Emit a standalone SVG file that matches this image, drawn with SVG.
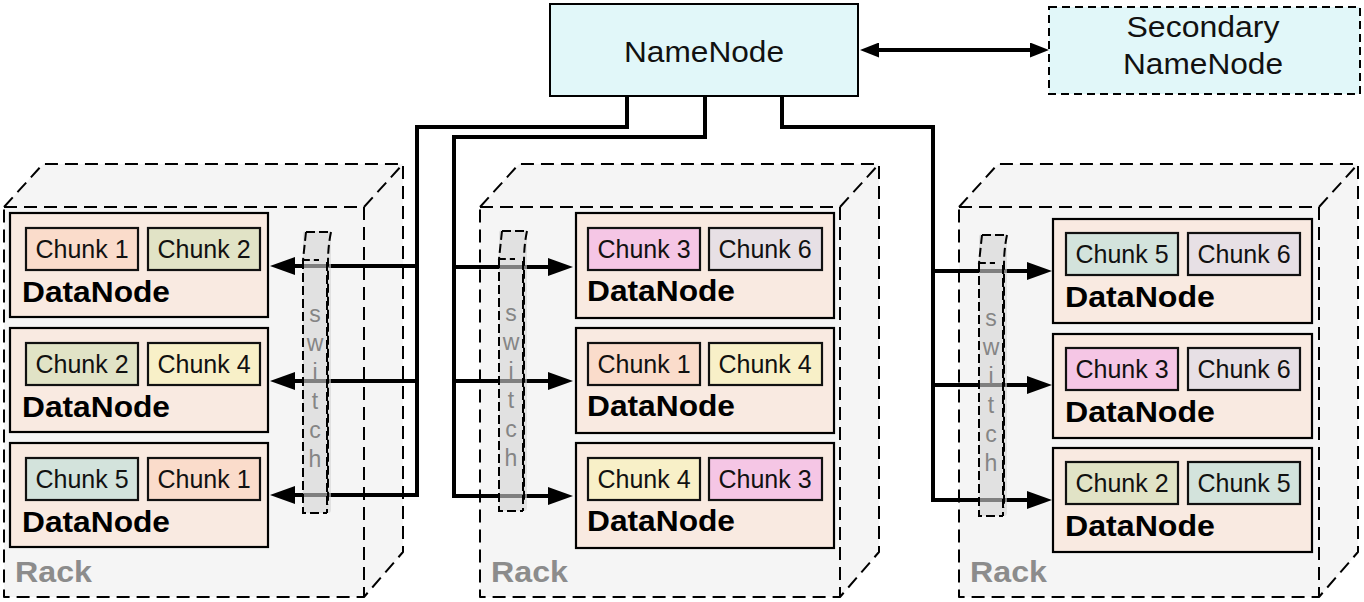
<svg xmlns="http://www.w3.org/2000/svg" width="1364" height="602" viewBox="0 0 1364 602">
<style>
.rack{fill:#f5f5f5;stroke:#000;stroke-width:2;stroke-dasharray:13 7;stroke-linejoin:round}
.rackin{fill:none;stroke:#000;stroke-width:2;stroke-dasharray:13 7}
.dn{fill:#f9eae1;stroke:#000;stroke-width:2.2}
.ck{stroke:#111;stroke-width:2.2}
.c1{fill:#fadccb}.c2{fill:#e1e3c6}.c3{fill:#f5c6e5}.c4{fill:#f8f0c8}.c5{fill:#d3e3dc}.c6{fill:#e7e0e5}
.ckt{font-family:"Liberation Sans",Arial,sans-serif;font-size:25px;fill:#111;text-anchor:middle}
.dnt{font-family:"Liberation Sans",Arial,sans-serif;font-size:29px;font-weight:bold;fill:#000}
.rkt{font-family:"Liberation Sans",Arial,sans-serif;font-size:29px;font-weight:bold;fill:#8c8c8c}
.nnt{font-family:"Liberation Sans",Arial,sans-serif;font-size:29px;fill:#111;text-anchor:middle}
.conn{fill:none;stroke:#000;stroke-width:4}
.swf{fill:#d4d4d4;fill-opacity:0.6}
.sws{fill:none;stroke:#000;stroke-width:2;stroke-dasharray:9 4}
.swt{font-family:"Liberation Sans",Arial,sans-serif;font-size:23px;fill:#858585;text-anchor:middle}
</style>
<defs>
<marker id="ah" viewBox="0 0 25 18" refX="0" refY="9" markerWidth="25" markerHeight="18" markerUnits="userSpaceOnUse" orient="auto">
<path d="M0,0 L25,9 L0,18 Z" fill="#000"/>
</marker>
<marker id="ah2" viewBox="0 0 19 15" refX="0" refY="7.5" markerWidth="19" markerHeight="15" markerUnits="userSpaceOnUse" orient="auto-start-reverse">
<path d="M0,0 L19,7.5 L0,15 Z" fill="#000"/>
</marker>
</defs>

<g id="namenode">
<rect x="550" y="4" width="308" height="92" fill="#e1f7f9" stroke="#000" stroke-width="2"/>
<text class="nnt" x="704" y="62" textLength="160" lengthAdjust="spacingAndGlyphs">NameNode</text>
</g>
<g id="secondary-namenode">
<rect x="1049" y="7" width="311" height="87" fill="#e1f7f9" stroke="#000" stroke-width="2" stroke-dasharray="8 5"/>
<text class="nnt" x="1203" y="37" textLength="153" lengthAdjust="spacingAndGlyphs">Secondary</text>
<text class="nnt" x="1203" y="74" textLength="160" lengthAdjust="spacingAndGlyphs">NameNode</text>
</g>

<!-- Rack 1 -->
<g id="rack1">
<path class="rack" d="M4,207 L43,164 H403 V552 L364,597 H4 Z"/>
<path class="rackin" d="M4,207 H364 V597 M364,207 L403,164"/>
<text class="rkt" x="15" y="582" textLength="77" lengthAdjust="spacingAndGlyphs">Rack</text>
<g id="r1-dn1">
<rect class="dn" x="10" y="213" width="258" height="104"/>
<rect class="ck c1" x="26" y="228" width="112" height="42"/><text class="ckt" x="82" y="258">Chunk 1</text>
<rect class="ck c2" x="148" y="228" width="112" height="42"/><text class="ckt" x="204" y="258">Chunk 2</text>
<text class="dnt" x="22" y="302" textLength="148" lengthAdjust="spacingAndGlyphs">DataNode</text>
</g>
<g id="r1-dn2">
<rect class="dn" x="10" y="328" width="258" height="104"/>
<rect class="ck c2" x="26" y="343" width="112" height="42"/><text class="ckt" x="82" y="373">Chunk 2</text>
<rect class="ck c4" x="148" y="343" width="112" height="42"/><text class="ckt" x="204" y="373">Chunk 4</text>
<text class="dnt" x="22" y="417" textLength="148" lengthAdjust="spacingAndGlyphs">DataNode</text>
</g>
<g id="r1-dn3">
<rect class="dn" x="10" y="443" width="258" height="104"/>
<rect class="ck c5" x="26" y="458" width="112" height="42"/><text class="ckt" x="82" y="488">Chunk 5</text>
<rect class="ck c1" x="148" y="458" width="112" height="42"/><text class="ckt" x="204" y="488">Chunk 1</text>
<text class="dnt" x="22" y="532" textLength="148" lengthAdjust="spacingAndGlyphs">DataNode</text>
</g>
</g>

<!-- Rack 2 -->
<g id="rack2">
<path class="rack" d="M480,207 L519,164 H879 V552 L840,597 H480 Z"/>
<path class="rackin" d="M480,207 H840 V597 M840,207 L879,164"/>
<text class="rkt" x="491" y="582" textLength="77" lengthAdjust="spacingAndGlyphs">Rack</text>
<g id="r2-dn1">
<rect class="dn" x="576" y="213" width="258" height="105"/>
<rect class="ck c3" x="588" y="228" width="112" height="42"/><text class="ckt" x="644" y="258">Chunk 3</text>
<rect class="ck c6" x="709" y="228" width="113" height="42"/><text class="ckt" x="765" y="258">Chunk 6</text>
<text class="dnt" x="587" y="301" textLength="148" lengthAdjust="spacingAndGlyphs">DataNode</text>
</g>
<g id="r2-dn2">
<rect class="dn" x="576" y="328" width="258" height="105"/>
<rect class="ck c1" x="588" y="343" width="112" height="42"/><text class="ckt" x="644" y="373">Chunk 1</text>
<rect class="ck c4" x="709" y="343" width="113" height="42"/><text class="ckt" x="765" y="373">Chunk 4</text>
<text class="dnt" x="587" y="416" textLength="148" lengthAdjust="spacingAndGlyphs">DataNode</text>
</g>
<g id="r2-dn3">
<rect class="dn" x="576" y="443" width="258" height="105"/>
<rect class="ck c4" x="588" y="458" width="112" height="42"/><text class="ckt" x="644" y="488">Chunk 4</text>
<rect class="ck c3" x="709" y="458" width="113" height="42"/><text class="ckt" x="765" y="488">Chunk 3</text>
<text class="dnt" x="587" y="531" textLength="148" lengthAdjust="spacingAndGlyphs">DataNode</text>
</g>
</g>

<!-- Rack 3 -->
<g id="rack3">
<path class="rack" d="M959,207 L998,164 H1358 V552 L1319,597 H959 Z"/>
<path class="rackin" d="M959,207 H1319 V597 M1319,207 L1358,164"/>
<text class="rkt" x="970" y="582" textLength="77" lengthAdjust="spacingAndGlyphs">Rack</text>
<g id="r3-dn1">
<rect class="dn" x="1053" y="219" width="259" height="104"/>
<rect class="ck c5" x="1066" y="233" width="112" height="42"/><text class="ckt" x="1122" y="263">Chunk 5</text>
<rect class="ck c6" x="1188" y="233" width="112" height="42"/><text class="ckt" x="1244" y="263">Chunk 6</text>
<text class="dnt" x="1065" y="307" textLength="150" lengthAdjust="spacingAndGlyphs">DataNode</text>
</g>
<g id="r3-dn2">
<rect class="dn" x="1053" y="334" width="259" height="104"/>
<rect class="ck c3" x="1066" y="348" width="112" height="42"/><text class="ckt" x="1122" y="378">Chunk 3</text>
<rect class="ck c6" x="1188" y="348" width="112" height="42"/><text class="ckt" x="1244" y="378">Chunk 6</text>
<text class="dnt" x="1065" y="422" textLength="150" lengthAdjust="spacingAndGlyphs">DataNode</text>
</g>
<g id="r3-dn3">
<rect class="dn" x="1053" y="448" width="259" height="104"/>
<rect class="ck c2" x="1066" y="462" width="112" height="42"/><text class="ckt" x="1122" y="492">Chunk 2</text>
<rect class="ck c5" x="1188" y="462" width="112" height="42"/><text class="ckt" x="1244" y="492">Chunk 5</text>
<text class="dnt" x="1065" y="536" textLength="150" lengthAdjust="spacingAndGlyphs">DataNode</text>
</g>
</g>

<g id="connectors">
<path class="conn" d="M879,50 H1030" stroke-width="2" marker-start="url(#ah2)" marker-end="url(#ah2)"/>
<path class="conn" d="M627,96 V127 H417 V495 H295" marker-end="url(#ah)"/>
<path class="conn" d="M417,266 H295" marker-end="url(#ah)"/>
<path class="conn" d="M417,381 H295" marker-end="url(#ah)"/>
<path class="conn" d="M705,96 V137 H454 V496 H548" marker-end="url(#ah)"/>
<path class="conn" d="M454,267 H548" marker-end="url(#ah)"/>
<path class="conn" d="M454,381 H548" marker-end="url(#ah)"/>
<path class="conn" d="M782,96 V127 H933 V500 H1027" marker-end="url(#ah)"/>
<path class="conn" d="M933,271 H1027" marker-end="url(#ah)"/>
<path class="conn" d="M933,385 H1027" marker-end="url(#ah)"/>
</g>

<g id="switch1">
<rect class="swf" x="303" y="231" width="28" height="282" rx="3"/>
<path class="sws" d="M306,232 H330 M306,232 L303,260 H319 M303,260 V513 H327 M331,232 Q328,246 328,262 V505 M327,262 V513"/>
<text class="swt" x="315" y="322">s</text><text class="swt" x="315" y="351">w</text><text class="swt" x="315" y="380">i</text><text class="swt" x="315" y="409">t</text><text class="swt" x="315" y="438">c</text><text class="swt" x="315" y="467">h</text>
</g>
<g id="switch2">
<rect class="swf" x="499" y="230" width="28" height="281" rx="3"/>
<path class="sws" d="M502,231 H526 M502,231 L499,259 H515 M499,259 V511 H523 M527,231 Q524,245 524,261 V503 M523,261 V511"/>
<text class="swt" x="511" y="321">s</text><text class="swt" x="511" y="350">w</text><text class="swt" x="511" y="379">i</text><text class="swt" x="511" y="408">t</text><text class="swt" x="511" y="437">c</text><text class="swt" x="511" y="466">h</text>
</g>
<g id="switch3">
<rect class="swf" x="979" y="234" width="28" height="282" rx="3"/>
<path class="sws" d="M982,235 H1006 M982,235 L979,263 H995 M979,263 V516 H1003 M1007,235 Q1004,249 1004,265 V508 M1003,265 V516"/>
<text class="swt" x="991" y="326">s</text><text class="swt" x="991" y="355">w</text><text class="swt" x="991" y="384">i</text><text class="swt" x="991" y="413">t</text><text class="swt" x="991" y="442">c</text><text class="swt" x="991" y="471">h</text>
</g>
</svg>
